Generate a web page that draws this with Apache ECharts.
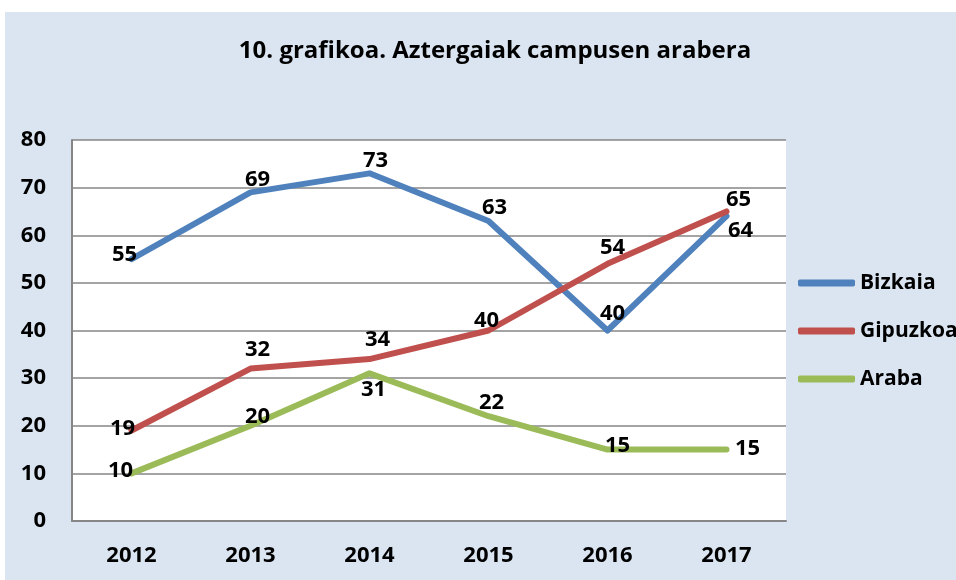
<!DOCTYPE html>
<html>
<head>
<meta charset="utf-8">
<script src="https://cdn.jsdelivr.net/npm/echarts@6/dist/echarts.min.js"></script>
<style>
  body { margin: 0; background: #ffffff; }
  #chart {
    position: absolute;
    left: 5px;
    top: 12px;
    width: 951px;
    height: 568px;
    background: #dbe5f1;
  }
</style>
</head>
<body>
<div id="chart"></div>
<script>
const years = ['2012', '2013', '2014', '2015', '2016', '2017']
const bizkaia = [55, 69, 73, 63, 40, 64]
const gipuzkoa = [19, 32, 34, 40, 54, 65]
const araba = [10, 20, 31, 22, 15, 15]
const yTicks = [0, 10, 20, 30, 40, 50, 60, 70, 80]

// label nudges (px) so the numbers sit like in the original
const bizkaiaOffsets = [[-7, -4], [7, -13], [6, -13], [6, -13], [5, -17], [14, 15]]
const gipuzkoaOffsets = [[-9, -2], [7, -19], [8, -19], [-2, -10], [5, -16], [12, -12]]
const arabaOffsets = [[-11, -3], [7, -9], [4, 16], [3, -13], [10, -4], [21, -1]]

const font = '"Open Sans", Lato, sans-serif'
const gridGray = '#868686'

function makeSeries(name, values, offsets, color) {
  return {
    name: name,
    type: 'line',
    data: values.map((v, i) => ({
      value: v,
      label: { offset: offsets[i] }
    })),
    symbol: 'circle',
    symbolSize: 2,
    itemStyle: { color: color },
    lineStyle: { color: color, width: 6, cap: 'round', join: 'round' },
    label: {
      show: true,
      position: 'inside',
      color: '#000',
      fontWeight: 'bold',
      fontSize: 22,
      fontFamily: font
    },
    emphasis: { disabled: true }
  }
}

const chart = echarts.init(document.getElementById('chart'))
chart.setOption({
  animation: false,
  textStyle: { fontFamily: font },
  title: {
    text: '10. grafikoa. Aztergaiak campusen arabera',
    left: 485,
    top: 22,
    textAlign: 'center',
    textStyle: { fontSize: 24, fontWeight: 'bold', color: '#000', fontFamily: font }
  },
  legend: {
    orient: 'vertical',
    left: 788,
    top: 254,
    icon: 'roundRect',
    itemWidth: 57,
    itemHeight: 7,
    itemGap: 24,
    data: ['Bizkaia', 'Gipuzkoa', 'Araba'],
    textStyle: { fontSize: 21, fontWeight: 'bold', color: '#000', lineHeight: 24, fontFamily: font }
  },
  grid: {
    left: 67,
    top: 128,
    right: 170,
    bottom: 59,
    show: true,
    backgroundColor: '#ffffff',
    borderWidth: 0
  },
  xAxis: {
    type: 'category',
    data: years,
    boundaryGap: true,
    axisTick: { show: false },
    axisLine: { lineStyle: { color: gridGray, width: 2 } },
    axisLabel: { margin: 24, fontSize: 22, fontWeight: 'bold', color: '#000', fontFamily: font }
  },
  yAxis: {
    type: 'value',
    min: yTicks[0],
    max: yTicks[yTicks.length - 1],
    interval: 10,
    axisLine: { show: true, lineStyle: { color: gridGray, width: 2 } },
    axisTick: { show: false },
    splitLine: { lineStyle: { color: gridGray, width: 1.5 } },
    axisLabel: { margin: 26, fontSize: 22, fontWeight: 'bold', color: '#000', fontFamily: font }
  },
  series: [
    makeSeries('Bizkaia', bizkaia, bizkaiaOffsets, '#4f81bd'),
    makeSeries('Gipuzkoa', gipuzkoa, gipuzkoaOffsets, '#c0504d'),
    makeSeries('Araba', araba, arabaOffsets, '#9bbb59')
  ]
})
</script>
</body>
</html>
